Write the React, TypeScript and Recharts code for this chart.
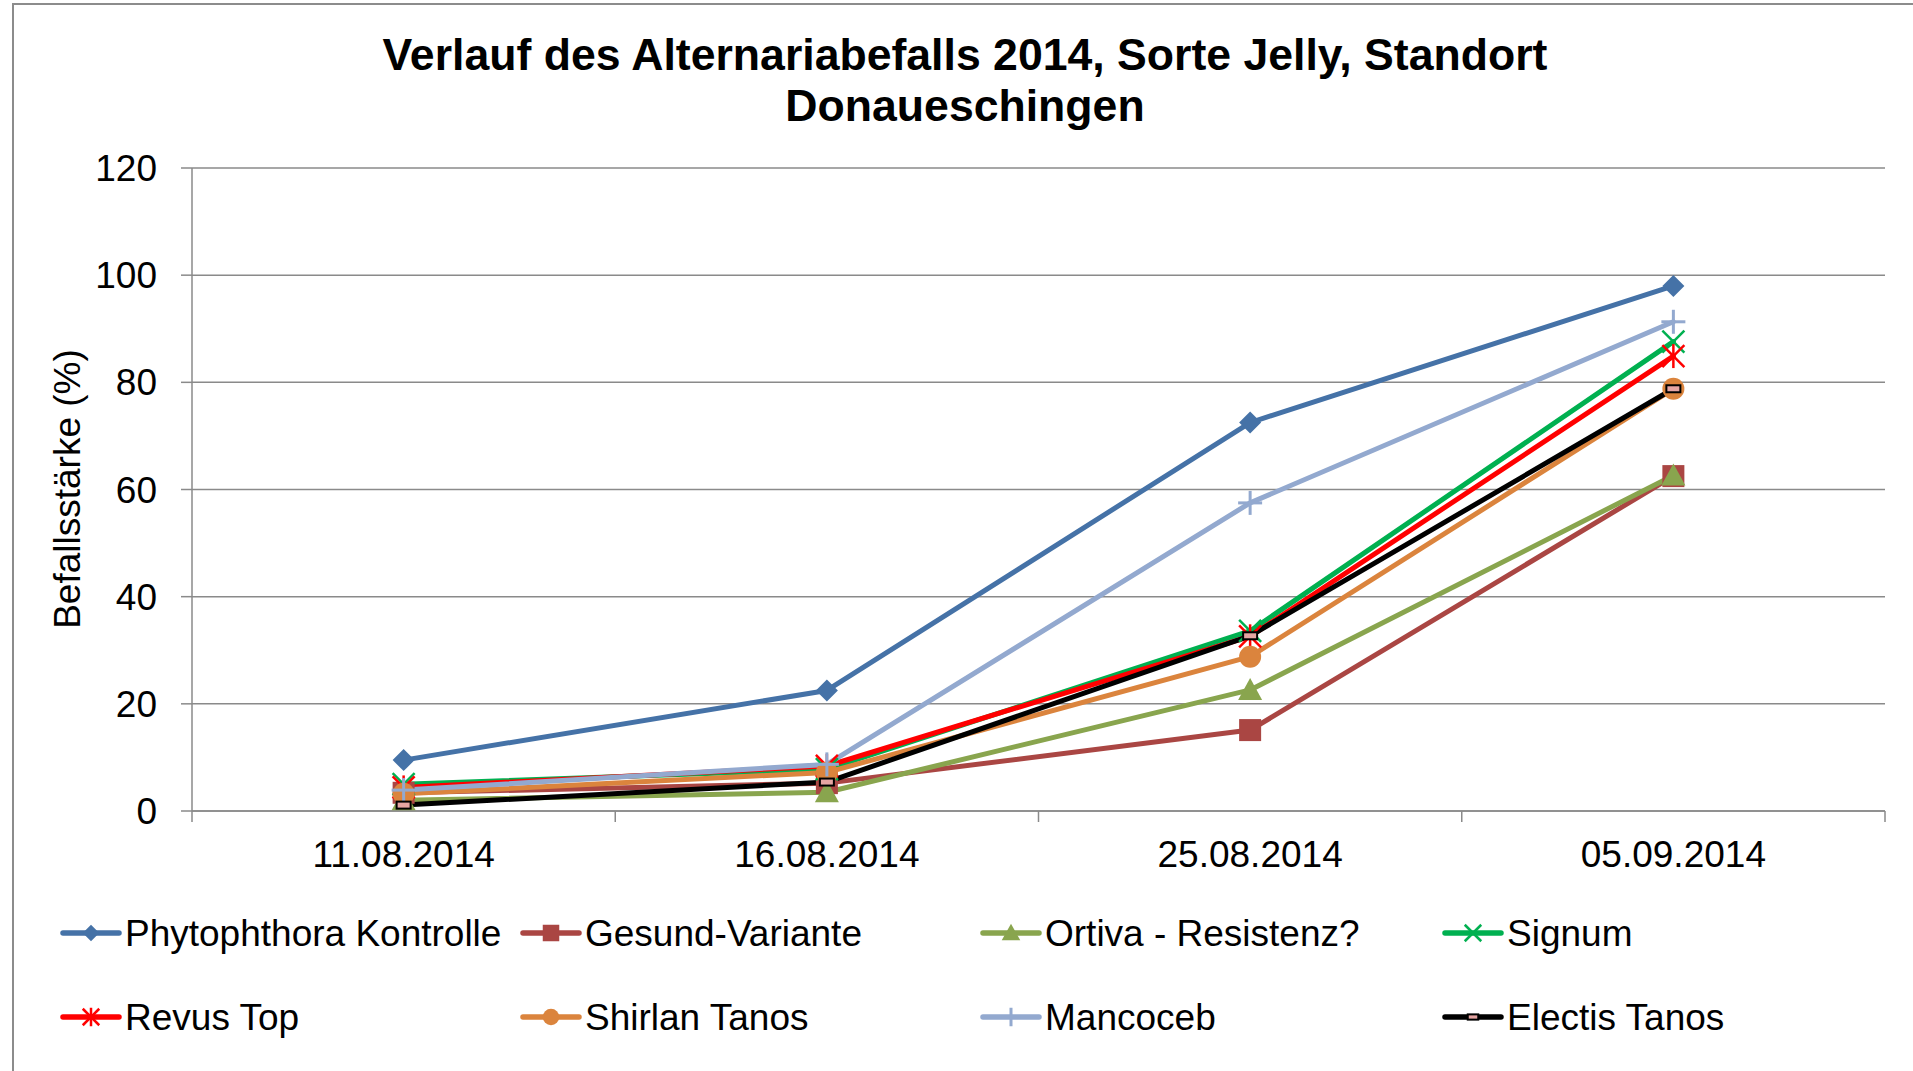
import React from 'react';
import { LineChart, Line, XAxis, YAxis, CartesianGrid } from 'recharts';

const categories = ['11.08.2014', '16.08.2014', '25.08.2014', '05.09.2014'];
const yTicks = [0, 20, 40, 60, 80, 100, 120];

const phytophthora = [9.5, 22.5, 72.5, 98.0];
const gesund = [3.4, 5.2, 15.1, 62.5];
const ortiva = [2.0, 3.5, 22.6, 62.6];
const signum = [5.0, 7.8, 33.6, 87.6];
const revus = [4.4, 8.4, 32.6, 84.9];
const shirlan = [3.2, 7.2, 28.8, 78.8];
const mancoceb = [3.9, 8.7, 57.5, 91.3];
const electis = [1.1, 5.4, 32.7, 78.8];

const seriesNames = [
  'Phytophthora Kontrolle',
  'Gesund-Variante',
  'Ortiva - Resistenz?',
  'Signum',
  'Revus Top',
  'Shirlan Tanos',
  'Mancoceb',
  'Electis Tanos',
];
const seriesValues = [phytophthora, gesund, ortiva, signum, revus, shirlan, mancoceb, electis];
const seriesColors = ['#4572A7', '#AA4643', '#89A54E', '#00B050', '#FF0000', '#DB843D', '#93A9CF', '#000000'];
const seriesMarkers = ['diamond', 'square', 'triangle', 'x', 'star', 'circle', 'plus', 'dash'];

const data = categories.map((c, i) => {
  const row: Record<string, any> = { date: c };
  seriesNames.forEach((n, s) => {
    row[n] = seriesValues[s][i];
  });
  return row;
});

const FONT = '"Liberation Sans", Arial, sans-serif';
const GRID = '#8A8A8A';
const FS = 37;

function Marker({ type, cx, cy, color, s = 1 }: { type: string; cx: number; cy: number; color: string; s?: number }) {
  const h = 11 * s;
  switch (type) {
    case 'diamond':
      return <polygon points={`${cx},${cy - h} ${cx + h},${cy} ${cx},${cy + h} ${cx - h},${cy}`} fill={color} />;
    case 'square':
      return <rect x={cx - h} y={cy - h} width={2 * h} height={2 * h} fill={color} />;
    case 'triangle':
      return <polygon points={`${cx},${cy - h - 1} ${cx + h + 1},${cy + h - 1} ${cx - h - 1},${cy + h - 1}`} fill={color} />;
    case 'circle':
      return <circle cx={cx} cy={cy} r={h} fill={color} />;
    case 'x':
      return (
        <g stroke={color} strokeWidth={2.5}>
          <line x1={cx - h} y1={cy - h} x2={cx + h} y2={cy + h} />
          <line x1={cx - h} y1={cy + h} x2={cx + h} y2={cy - h} />
        </g>
      );
    case 'star':
      return (
        <g stroke={color} strokeWidth={2.5}>
          <line x1={cx - h} y1={cy - h} x2={cx + h} y2={cy + h} />
          <line x1={cx - h} y1={cy + h} x2={cx + h} y2={cy - h} />
          <line x1={cx} y1={cy - h - 1} x2={cx} y2={cy + h + 1} />
        </g>
      );
    case 'plus':
      return (
        <g stroke={color} strokeWidth={3}>
          <line x1={cx - h - 1} y1={cy} x2={cx + h + 1} y2={cy} />
          <line x1={cx} y1={cy - h - 1} x2={cx} y2={cy + h + 1} />
        </g>
      );
    case 'dash':
      return <rect x={cx - 7 * s} y={cy - 3.5 * s} width={14 * s} height={7 * s} fill="#E6A5A3" stroke="#000" strokeWidth={2} />;
    default:
      return null;
  }
}

const XTick = (props: any) => {
  const { x, y, payload, index } = props;
  const off = payload.offset || 0;
  return (
    <g>
      <line x1={x - off} x2={x - off} y1={y} y2={y + 11} stroke={GRID} strokeWidth={1.5} />
      {index === categories.length - 1 && (
        <line x1={x + off} x2={x + off} y1={y} y2={y + 11} stroke={GRID} strokeWidth={1.5} />
      )}
      <text x={x} y={y + 30} dy="0.71em" textAnchor="middle" fill="#000" fontSize={FS} fontFamily={FONT}>
        {payload.value}
      </text>
    </g>
  );
};

const YLabel = (props: any) => {
  const cy = 489;
  return (
    <text
      transform={`translate(80, ${cy}) rotate(-90)`}
      textAnchor="middle"
      fill="#000"
      fontSize={FS}
      fontFamily={FONT}
    >
      Befallsstärke (%)
    </text>
  );
};

const legendCols = [63, 523, 983, 1445];
const legendRows = [933, 1017];

export default function App() {
  return (
    <div style={{ position: 'absolute', left: 0, top: 0, width: 1913, height: 1071, background: '#fff', fontFamily: FONT }}>
      <div
        style={{
          position: 'absolute',
          left: 12,
          top: 3,
          width: 1913 - 14,
          height: 1071 - 5,
          borderTop: '2px solid #8C8C8C',
          borderLeft: '2px solid #8C8C8C',
        }}
      />
      <LineChart
        width={1913}
        height={1071}
        data={data}
        margin={{ top: 168, right: 28, bottom: 230, left: 0 }}
        style={{ position: 'absolute', left: 0, top: 0 }}
      >
        <CartesianGrid vertical={false} stroke={GRID} strokeWidth={1.5} />
        <XAxis
          dataKey="date"
          scale="band"
          height={30}
          axisLine={{ stroke: GRID, strokeWidth: 1.5 }}
          tickLine={false}
          tickSize={0}
          tickMargin={0}
          tick={XTick}
          interval={0}
        />
        <YAxis
          width={192}
          domain={[0, 120]}
          ticks={yTicks}
          interval={0}
          axisLine={{ stroke: GRID, strokeWidth: 1.5 }}
          tickLine={{ stroke: GRID, strokeWidth: 1.5 }}
          tickSize={11}
          tickMargin={24}
          tick={{ fill: '#000', fontSize: FS, fontFamily: FONT }}
          label={<YLabel />}
        />
        {seriesNames.map((n, s) => (
          <Line
            key={n}
            dataKey={n}
            stroke={seriesColors[s]}
            strokeWidth={5}
            isAnimationActive={false}
            strokeLinejoin="round"
            strokeLinecap="round"
            dot={(p: any) => (
              <Marker key={`${n}-${p.index}`} type={seriesMarkers[s]} cx={p.cx} cy={p.cy} color={seriesColors[s]} />
            )}
            activeDot={false}
          />
        ))}
      </LineChart>
      <svg width={1913} height={1071} style={{ position: 'absolute', left: 0, top: 0, pointerEvents: 'none' }}>
        <text x={965} y={70} textAnchor="middle" fontSize={44.6} fontWeight="bold" fontFamily={FONT} fill="#000">
          Verlauf des Alternariabefalls 2014, Sorte Jelly, Standort
        </text>
        <text x={965} y={121} textAnchor="middle" fontSize={44.6} fontWeight="bold" fontFamily={FONT} fill="#000">
          Donaueschingen
        </text>
        {seriesNames.map((n, s) => {
          const x0 = legendCols[s % 4];
          const y0 = legendRows[Math.floor(s / 4)];
          return (
            <g key={n}>
              <line x1={x0} x2={x0 + 56} y1={y0} y2={y0} stroke={seriesColors[s]} strokeWidth={5.5} strokeLinecap="round" />
              <Marker type={seriesMarkers[s]} cx={x0 + 28} cy={y0} color={seriesColors[s]} s={0.75} />
              <text x={x0 + 62} y={y0} dy="0.36em" fontSize={FS} fontFamily={FONT} fill="#000">
                {n}
              </text>
            </g>
          );
        })}
      </svg>
    </div>
  );
}
